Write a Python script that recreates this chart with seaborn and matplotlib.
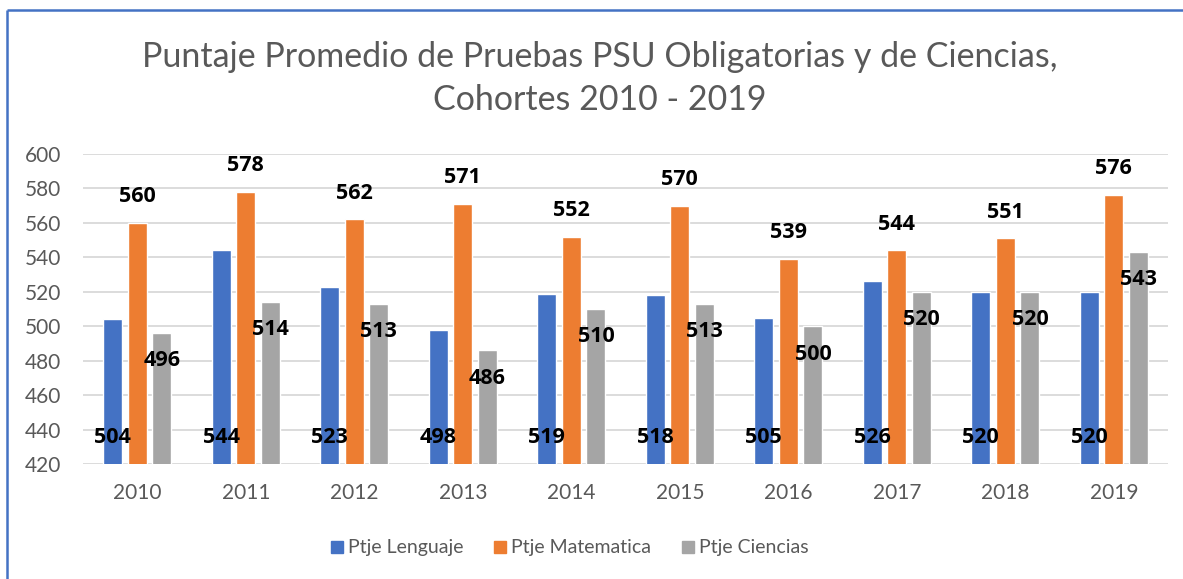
import matplotlib
matplotlib.use("Agg")
import matplotlib.pyplot as plt
import pandas as pd
import seaborn as sns
from matplotlib.lines import Line2D

years = ['2010', '2011', '2012', '2013', '2014', '2015', '2016', '2017', '2018', '2019']
lenguaje = [504, 544, 523, 498, 519, 518, 505, 526, 520, 520]
matematica = [560, 578, 562, 571, 552, 570, 539, 544, 551, 576]
ciencias = [496, 514, 513, 486, 510, 513, 500, 520, 520, 543]
series = ['Ptje Lenguaje', 'Ptje Matematica', 'Ptje Ciencias']
colors = ['#4472C4', '#ED7D31', '#A5A5A5']

rows = []
for name, vals in zip(series, [lenguaje, matematica, ciencias]):
    for y, v in zip(years, vals):
        rows.append([y, name, v])
df = pd.DataFrame(rows, columns=['year', 'type', 'score'])

sns.set_style("white")
plt.rcParams['font.family'] = ['Lato', 'DejaVu Sans']

fig = plt.figure(figsize=(11.83, 5.79), dpi=100)
ax = fig.add_axes([0.0702, 0.1986, 0.9172, 0.5354])

sns.barplot(data=df, x='year', y='score', hue='type', palette=colors,
            saturation=1, width=0.68, gap=0.23, ax=ax, legend=False)

ax.set_ylim(420, 600)
ax.set_yticks(range(420, 601, 20))
ax.set_xlim(-0.5, len(years) - 0.5)
ax.grid(axis='y', color='#d9d9d9', linewidth=1.3)
ax.set_axisbelow(True)
for s in ax.spines.values():
    s.set_visible(False)
ax.tick_params(axis='both', length=0, labelsize=15, colors='#595959')
ax.tick_params(axis='x', pad=14)
ax.tick_params(axis='y', pad=16)
ax.set_xlabel('')
ax.set_ylabel('')

# data labels: bottom for Lenguaje, above for Matematica, inside top for Ciencias
offsets = [None, 19, -20]
lab = dict(ha='center', va='center', fontsize=15.5, fontweight='bold',
           color='black', family='Open Sans', textcoords='offset points')
for i, cont in enumerate(ax.containers):
    for p in cont:
        xc = p.get_x() + p.get_width() / 2
        h = p.get_height()
        if i == 0:
            ax.annotate(format(h, '.0f'), (xc, 420), xytext=(0, 19.4), **lab)
        else:
            ax.annotate(format(h, '.0f'), (xc, h), xytext=(0, offsets[i]), **lab)

fig.text(0.507, 1 - 57 / 579, 'Puntaje Promedio de Pruebas PSU Obligatorias y de Ciencias,',
         ha='center', va='center', fontsize=24.5, color='#595959')
fig.text(0.507, 1 - 100 / 579, 'Cohortes 2010 - 2019',
         ha='center', va='center', fontsize=24.5, color='#595959')

handles = [Line2D([], [], marker='s', linestyle='', color=c, markersize=9) for c in colors]
fig.legend(handles, series, loc='center', bbox_to_anchor=(0.48, 1 - 548 / 579), ncol=3,
           frameon=False, fontsize=14, labelcolor='#595959', handletextpad=0.05,
           handlelength=1.0, columnspacing=1.4)

# frame lines (top and left edge of the chart border), running off the image
fig.add_artist(Line2D([7 / 1183, 1.05], [1 - 10 / 579, 1 - 10 / 579],
                      transform=fig.transFigure, color='#4472C4', linewidth=1.8,
                      solid_capstyle='butt'))
fig.add_artist(Line2D([7 / 1183, 7 / 1183], [-0.05, 1 - 10 / 579],
                      transform=fig.transFigure, color='#4472C4', linewidth=1.8,
                      solid_capstyle='butt'))

fig.savefig('out.png', dpi=100)
